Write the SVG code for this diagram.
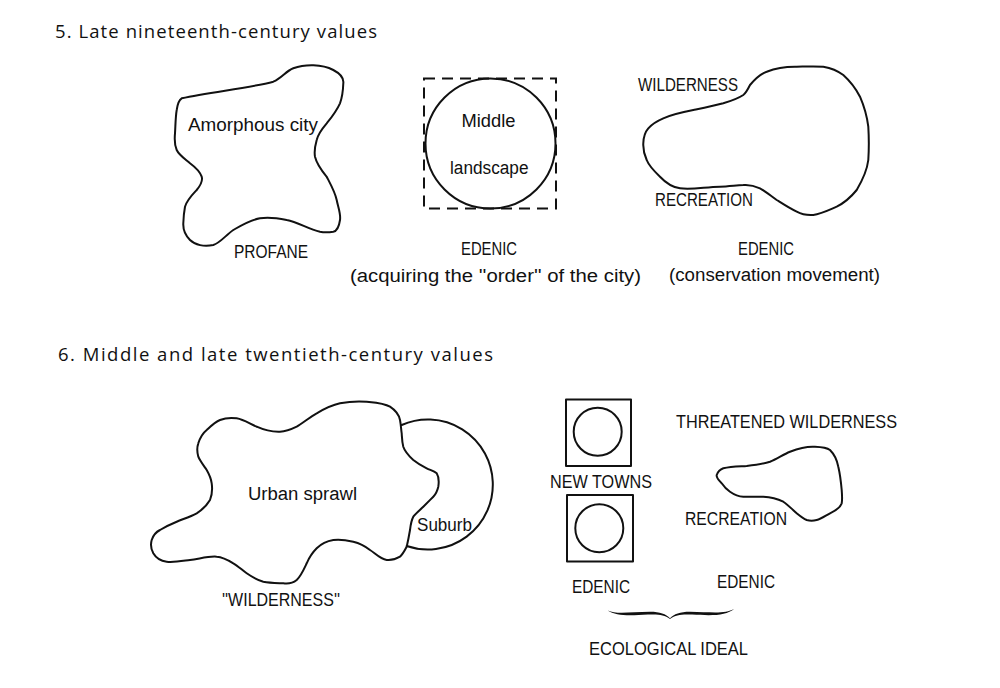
<svg xmlns="http://www.w3.org/2000/svg" width="1000" height="688" viewBox="0 0 1000 688">
<style>
.bg{fill:#fff}
.ol{fill:none;stroke:#111;stroke-width:2;stroke-linejoin:round;stroke-linecap:round}
.dash{fill:none;stroke:#111;stroke-width:2;stroke-dasharray:11 7}
.lb{font-family:"Liberation Sans Narrow","Liberation Sans",Arial,sans-serif;font-size:18px;fill:#111}
.tt{font-family:"Open Sans","Liberation Sans",sans-serif;font-size:18.5px;fill:#111}
</style>
<rect class="bg" x="0" y="0" width="1000" height="688"/>

<g id="titles">
<text class="tt" x="55" y="38" textLength="322" lengthAdjust="spacing">5. Late nineteenth-century values</text>
<text class="tt" x="58" y="361" textLength="435" lengthAdjust="spacing">6. Middle and late twentieth-century values</text>
</g>

<g id="amorphous-city">
<path class="ol" d="M181.7,98.3 C210,92 250,88 273.3,81.7 C282,78 286,71 293.3,68.3 C305,64 322,64 333.3,70 C341,74 344,78 343.3,83.3 C343,92 342,98 340,103.3 C336,112 331,118 326.7,123.3 C321,130 318,134 316.7,140 C315,146 314,151 315,156.7 C317,165 322,171 326.7,176.7 C331,185 335,192 336.7,200 C338,207 341,214 340,220 C339,227 337,231 333.3,231.7 C328,232.5 324,232.5 320,231.7 C308,229 298,222 286.7,220 C277,218 268,217 260,218.3 C250,220 242,225 233.3,230 C226,235 220,243 213.3,245 C204,247 195,245 190,240 C185,235 183,229 183.3,223.3 C183.5,217 184,212 185,206.7 C187,200 192,195 196.7,190 C200,186 203,181 201.7,176.7 C200,172 195,167 190,163.3 C185,159 179,155 176.7,150 C174,144 174.5,139 175,133.3 C175.5,125 175.5,117 176.7,110 C177.5,104 179,100 181.7,98.3 Z"/>
<text class="lb" x="188" y="131" textLength="130" lengthAdjust="spacingAndGlyphs">Amorphous city</text>
<text class="lb" x="234" y="258" textLength="74" lengthAdjust="spacingAndGlyphs">PROFANE</text>
</g>

<g id="middle-landscape">
<rect class="dash" x="424" y="78.5" width="132" height="130"/>
<circle class="ol" cx="490.5" cy="143.5" r="65"/>
<text class="lb" x="461.5" y="127" textLength="54" lengthAdjust="spacingAndGlyphs">Middle</text>
<text class="lb" x="450" y="173.5" textLength="78.5" lengthAdjust="spacingAndGlyphs">landscape</text>
<text class="lb" x="461" y="255" textLength="56" lengthAdjust="spacingAndGlyphs">EDENIC</text>
<text class="lb" x="350" y="282" textLength="291" lengthAdjust="spacingAndGlyphs">(acquiring the ''order'' of the city)</text>
</g>

<g id="wilderness">
<path class="ol" d="M750,85 C755,79 760,74 766.7,71.7 C776,68 786,66.5 796.7,66.7 C806,66.5 815,66 823.3,66.7 C831,68 838,71 843.3,75 C850,81 856,89 860,96.7 C864,106 867,116 868.3,126.7 C869,138 869,149 868.3,160 C867,171 862,181 856.7,190 C851,197 844,203 836.7,206.7 C829,210 821,214 813.3,215 C807,215.5 801,214 796.7,211.7 C789,208 783,204 776.7,200 C771,196 765,191 760,188.3 C754,185.5 749,184.5 743.3,185 C735,185.5 728,186.5 720,186.7 C705,187 692,190 680,188.3 C671,187 665,182 660,176.7 C654,171 649,166 646.7,160 C644,154 643,149 643.3,143.3 C643.5,137 645,132 648.3,128.3 C652,124 657,121 663.3,118.3 C673,114 683,112 693.3,110 C703,108 713,106 723.3,103.3 C731,101 738,98.5 743.3,95 C746,93 748,89 750,85 Z"/>
<text class="lb" x="638" y="91" textLength="100" lengthAdjust="spacingAndGlyphs">WILDERNESS</text>
<text class="lb" x="655" y="206" textLength="98" lengthAdjust="spacingAndGlyphs">RECREATION</text>
<text class="lb" x="738" y="255" textLength="56" lengthAdjust="spacingAndGlyphs">EDENIC</text>
<text class="lb" x="669" y="281" textLength="211" lengthAdjust="spacingAndGlyphs">(conservation movement)</text>
</g>

<g id="suburb">
<path class="ol" d="M401.7,425 A65,65 0 1 1 406.7,546"/>
<text class="lb" x="417" y="531" textLength="55" lengthAdjust="spacingAndGlyphs">Suburb</text>
</g>

<g id="urban-sprawl">
<path class="ol" d="M198.3,443.3 C200,438 203,433 206.7,430 C211,426 215,422 220,420 C225,418 231,417.5 236.7,418.3 C244,419.5 250,424 256.7,426.7 C264,430 272,432 280,431.7 C286,431.5 291,429.5 296.7,426.7 C303,423 310,417 316.7,413.3 C324,409 332,405 340,403.3 C349,401.5 358,401 366.7,401.7 C375,402.5 384,403 390,406.7 C395,410 399,415 400,420 C401,425 401,429 401.7,433.3 C402,438 402,442 403.3,446.7 C405,452 409,456 413.3,460 C417,463 422,466 426.7,468.3 C430,470 434,471 436.7,473.3 C439,477 439,482 438.3,486.7 C437.5,490 436,494 433.3,496.7 C430,500 427,503 423.3,506.7 C420,510 416,513 413.3,516.7 C411,521 410.5,526 410,530 C409,536 408,541 406.7,546.7 C405,550 403,554 400,556.7 C396,559 391,560.5 386.7,560 C380,559 375,553 370,550 C365,546 359,543 353.3,541.7 C346,540 340,539 333.3,540 C327,541 321,544 316.7,548.3 C312,553 309,558 306.7,563.3 C304,569 301,576 296.7,580 C293,583 288,584 283.3,583.3 C277,583 270,583 263.3,581.7 C257,580 252,577 246.7,573.3 C242,570 238,566 233.3,563.3 C228,560 222,557 216.7,556.7 C208,556 199,559 190,560 C182,561 174,562.5 166.7,561.7 C161,561 156,558 153.3,553.3 C151,549 150.5,544 151.7,540 C153,536 156,532 160,530 C165,527 171,524 176.7,521.7 C183,519 190,517 196.7,513.3 C202,510 207,505 210,500 C212,495 212.5,489 211.7,483.3 C211,478 209,474 206.7,470 C204,466 200,461 198.3,456.7 C197,452 197,447 198.3,443.3 Z"/>
<text class="lb" x="248" y="500" textLength="109" lengthAdjust="spacingAndGlyphs">Urban sprawl</text>
<text class="lb" x="222" y="606" textLength="118" lengthAdjust="spacingAndGlyphs">''WILDERNESS''</text>
</g>

<g id="new-towns">
<rect class="ol" x="566" y="399.5" width="65" height="66.5"/>
<circle class="ol" cx="597.7" cy="431.7" r="24"/>
<text class="lb" x="550" y="488" textLength="102" lengthAdjust="spacingAndGlyphs">NEW TOWNS</text>
<rect class="ol" x="567" y="495" width="66" height="66.5"/>
<circle class="ol" cx="599.3" cy="528.3" r="24"/>
<text class="lb" x="572" y="593" textLength="58" lengthAdjust="spacingAndGlyphs">EDENIC</text>
</g>

<g id="threatened-wilderness">
<text class="lb" x="676" y="428" textLength="221" lengthAdjust="spacingAndGlyphs">THREATENED WILDERNESS</text>
<path class="ol" d="M716.7,475 C718,471.5 720,469.5 723.3,468.3 C731,466.5 739,466.5 746.7,466 C755,465 763,464 770,461.7 C777,459 783,454.5 790,451.7 C797,449 805,446.5 813.3,446.7 C820,447 826,447 830,450 C834,454 837,460 838.3,466.7 C840,474 841,482 841.7,490 C842,495 842.5,499 841.7,503.3 C840,508 835,511 830,513.3 C825,516 821,519 816.7,520 C813,521 810,521 806.7,520 C803,518.5 800,516 796.7,513.3 C792,509 788,505 783.3,501.7 C777,498.5 770,497 763.3,496.7 C756,496.5 750,497 743.3,496.7 C738,496.5 734,494.5 730,491.7 C726,489 723.5,486 721.7,483.3 C719,480 716,478 716.7,475 Z"/>
<text class="lb" x="685" y="525" textLength="102" lengthAdjust="spacingAndGlyphs">RECREATION</text>
<text class="lb" x="717" y="588" textLength="58" lengthAdjust="spacingAndGlyphs">EDENIC</text>
</g>

<g id="ecological-ideal">
<path fill="#111" d="M607.7,610.5 C616,614.5 630,612 650,611.8 C660,611.8 666,614 670,618.3 C674,614 680,611.8 690,611.8 C710,612 725,614.5 734.3,608.8 C726,616 712,615.8 692,614.6 C682,614.2 676,614.5 670,619 C664,614.5 658,614.2 648,614.6 C628,615.8 616,616 607.7,610.5 Z"/>
<text class="lb" x="589" y="655" textLength="159" lengthAdjust="spacingAndGlyphs">ECOLOGICAL IDEAL</text>
</g>
</svg>
